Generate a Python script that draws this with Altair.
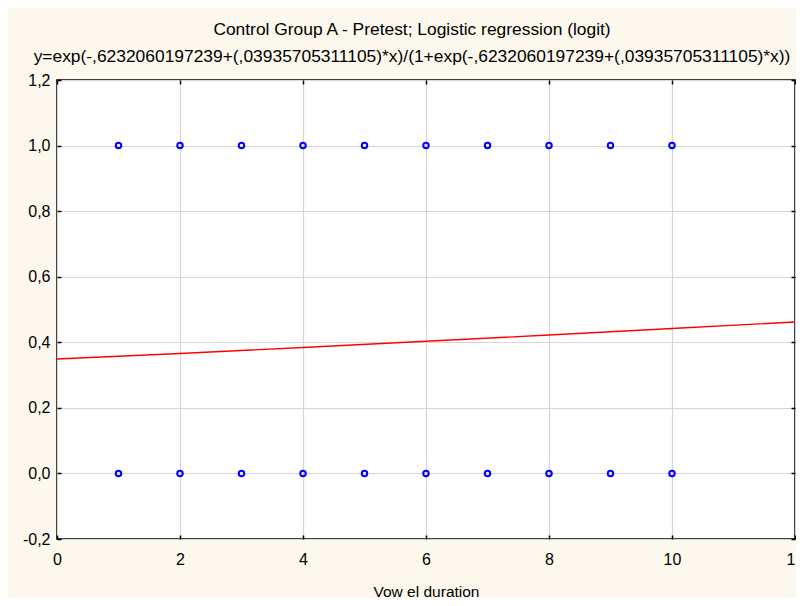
import altair as alt
import pandas as pd

# Observed points (x = vowel duration step, y = response 0/1)
pt_x = [1, 2, 3, 4, 5, 6, 7, 8, 9, 10, 1, 2, 3, 4, 5, 6, 7, 8, 9, 10]
pt_y = [1, 1, 1, 1, 1, 1, 1, 1, 1, 1, 0, 0, 0, 0, 0, 0, 0, 0, 0, 0]

# Fitted logistic curve
line_x = [0, 2, 4, 6, 8, 10, 12]
line_y = [0.349, 0.366, 0.384, 0.403, 0.422, 0.442, 0.462]

title_1 = "Control Group A - Pretest; Logistic regression (logit)"
title_2 = "y=exp(-,6232060197239+(,03935705311105)*x)/(1+exp(-,6232060197239+(,03935705311105)*x))"
x_title = "Vow el duration"

x_ticks = [0, 2, 4, 6, 8, 10, 12]
y_ticks = [-0.2, 0.0, 0.2, 0.4, 0.6, 0.8, 1.0, 1.2]

W, H = 738, 459
FONT = "Arial, Liberation Sans"

pts = pd.DataFrame({"x": pt_x, "y": pt_y})
ln = pd.DataFrame({"x": line_x, "y": line_y})

xs = alt.Scale(domain=[0, 12], nice=False, zero=False)
ys = alt.Scale(domain=[-0.2, 1.2], nice=False, zero=False)

ylab = "replace(replace(format(datum.value, '.1f'), '.', ','), '\u2212', '-')"

main_x = alt.Axis(values=x_ticks, grid=True, ticks=False, tickSize=0, domain=False,
                  labelPadding=12, labelFontSize=16, labelFont=FONT, labelColor="black",
                  title=x_title, titleFont=FONT, titleFontSize=15.5, titleFontWeight="normal",
                  titleColor="black", titlePadding=17, labelFlush=False)
main_y = alt.Axis(values=y_ticks, grid=True, ticks=False, tickSize=0, domain=False,
                  labelPadding=7, labelFontSize=16, labelFont=FONT, labelColor="black",
                  labelExpr=ylab, title=None, labelFlush=False)

def tick_axis(orient, offset, values):
    return alt.Axis(orient=orient, offset=offset, values=values, labels=False, grid=False,
                    domain=False, ticks=True, tickSize=4, tickColor="black", tickWidth=1.5,
                    title=None)

points = alt.Chart(pts).mark_point(shape="circle", filled=False, color="#0000FF",
                                   strokeWidth=2, size=30, opacity=1).encode(
    x=alt.X("x:Q", scale=xs, axis=main_x),
    y=alt.Y("y:Q", scale=ys, axis=main_y),
)

curve = alt.Chart(ln).mark_line(color="#FF0000", strokeWidth=1.4).encode(
    x=alt.X("x:Q", scale=xs, axis=tick_axis("top", -H, x_ticks)),
    y=alt.Y("y:Q", scale=ys, axis=tick_axis("right", -W, y_ticks)),
)

ghost = alt.Chart(pts).mark_point(opacity=0).encode(
    x=alt.X("x:Q", scale=xs, axis=tick_axis("bottom", -H, x_ticks)),
    y=alt.Y("y:Q", scale=ys, axis=tick_axis("left", -W, y_ticks)),
)

chart = alt.layer(points, curve, ghost).resolve_axis(x="independent", y="independent").properties(
    width=W, height=H,
    autosize=alt.AutoSizeParams(type="none"),
    padding={"left": 49, "top": 72, "right": 1, "bottom": 59},
    background="#FDF8EE",
    title=alt.TitleParams(text=[title_1, title_2], font=FONT, fontSize=17.4, fontWeight="normal",
                          color="black", lineHeight=26.5, offset=7, anchor="middle", dx=-14),
).configure_view(stroke="black", strokeWidth=1.6, fill="white").configure_axis(
    gridColor="#D6D6D6", gridWidth=1.2
)

chart.save("out.html", embed_options={"renderer": "svg", "actions": False})
